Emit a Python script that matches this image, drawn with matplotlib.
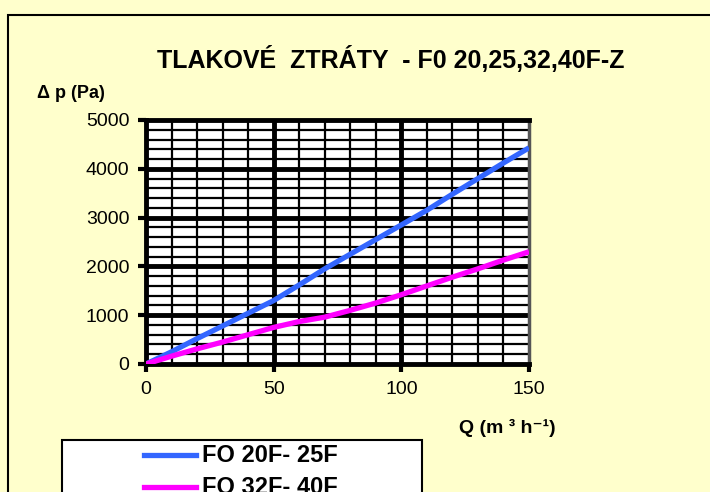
import matplotlib
matplotlib.use("Agg")
from matplotlib import pyplot as plt
from matplotlib.patches import Rectangle
from matplotlib.lines import Line2D
import numpy as np

plt.rcParams['font.family'] = ['Liberation Sans', 'DejaVu Sans']

# data
q = [0, 10, 20, 30, 40, 50, 60, 70, 80, 90, 100, 110, 120, 130, 140, 150]
dp_20_25 = [0, 250, 520, 780, 1040, 1300, 1620, 1950, 2250, 2550, 2850, 3150, 3480, 3800, 4120, 4430]
dp_32_40 = [0, 160, 310, 450, 600, 750, 870, 960, 1100, 1250, 1420, 1600, 1780, 1950, 2130, 2300]
series_names = ["FO 20F- 25F", "FO 32F- 40F"]
series_colors = ["#3366FF", "#FF00FF"]
x_ticks = [0, 50, 100, 150]
y_ticks = [0, 1000, 2000, 3000, 4000, 5000]

bg = "#FFFFCC"
W, H = 710, 492
fig = plt.figure(figsize=(7.10, 4.92), dpi=100, facecolor=bg)

# outer frame
fig.add_artist(Rectangle((8 / W, -0.1), 1.2, 1 - 15 / H + 0.1, transform=fig.transFigure,
                         facecolor=bg, edgecolor="black", lw=1.5, zorder=-10))

ax = fig.add_axes([146 / W, 1 - 364 / H, (529 - 146) / W, (364 - 120) / H])
ax.set_zorder(5)
ax.set_facecolor("white")

# grid
for x in np.arange(10, 150, 10):
    major = x % 50 == 0
    ax.axvline(x, color="black", lw=3.5 if major else 1.6, zorder=1)
for y in np.arange(200, 5000, 200):
    major = y % 1000 == 0
    ax.axhline(y, color="black", lw=3.5 if major else 1.6, zorder=1)

ax.plot(q, dp_20_25, color=series_colors[0], lw=3.8, zorder=3, solid_capstyle="butt")
ax.plot(q, dp_32_40, color=series_colors[1], lw=3.8, zorder=3, solid_capstyle="butt")

ax.set_xlim(0, 150)
ax.set_ylim(0, 5000)
ax.set_xticks(x_ticks)
ax.set_yticks(y_ticks)
ax.tick_params(axis="both", direction="out", length=6, width=3, labelsize=14, pad=6)
for side in ["left", "top", "bottom"]:
    ax.spines[side].set_linewidth(3.5)
    ax.spines[side].set_color("black")
ax.spines["right"].set_linewidth(2.5)
ax.spines["right"].set_color("#555555")

fig.text(391 / W, 1 - 60 / H, "TLAKOVÉ  ZTRÁTY  - F0 20,25,32,40F-Z",
         ha="center", va="center", fontsize=18, fontweight="bold")
fig.text(37 / W, 1 - 93 / H, "Δ p (Pa)", ha="left", va="center", fontsize=13, fontweight="bold")
fig.text(556 / W, 1 - 428 / H, "Q (m ³ h⁻¹)", ha="right", va="center",
         fontsize=14, fontweight="bold")

# legend box (cut by the bottom edge, as in the original)
fig.add_artist(Rectangle((62 / W, -0.1), (422 - 62) / W, 1 - 440 / H + 0.1, transform=fig.transFigure,
                         facecolor="white", edgecolor="black", lw=1.5))
for i, (name, col) in enumerate(zip(series_names, series_colors)):
    yy = 1 - (455 + 32 * i) / H
    fig.add_artist(Line2D([144 / W, 196 / W], [yy, yy], transform=fig.transFigure,
                          color=col, lw=3.8))
    fig.text(202 / W, yy, name, ha="left", va="center", fontsize=17, fontweight="bold")

fig.savefig("out.png", dpi=100, facecolor=bg)
